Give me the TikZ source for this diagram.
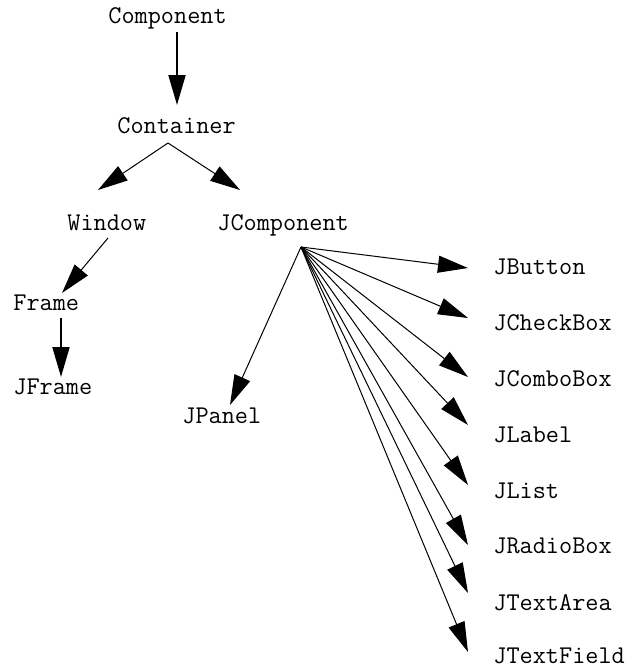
\documentclass[tikz,border=0pt]{standalone}
\usepackage{tikz}
\usetikzlibrary{arrows.meta}

\begin{document}
\begin{tikzpicture}[x=0.5pt,y=-0.5pt]
                \tikzstyle{cls}=[inner sep=0pt,anchor=base west,font=\ttfamily\fontsize{12.76}{15}\selectfont]
                \tikzstyle{sub}=[-{Triangle[length=15pt,width=8.5pt]},line width=0.5pt]
                \tikzstyle{subthick}=[sub,line width=1pt]
                \useasboundingbox (0,0) rectangle (629,669);

                % AWT part of the tree
                \node[cls] (comp) at (108,24) {Component};
                \node[cls] (cont) at (117,133) {Container};
                \node[cls] (win) at (67,230) {Window};
                \node[cls] (jc) at (217,230) {JComponent};
                \node[cls] (frame) at (13,310) {Frame};
                \node[cls] (jframe) at (13,394) {JFrame};
                \node[cls] (jpanel) at (182,423) {JPanel};

                % swing widgets in one column
                \foreach \nm/\txt/\y in {btn/JButton/274, chk/JCheckBox/330, combo/JComboBox/386,
                                         lbl/JLabel/442, lst/JList/498, radio/JRadioBox/553,
                                         area/JTextArea/610, field/JTextField/663}
                    \node[cls] (\nm) at (493,\y) {\txt};

                \coordinate (cont-out) at ([shift={(51,10)}]cont.base west);
                \coordinate (jc-out) at ([shift={(84,17)}]jc.base west);

                \draw[subthick] ([shift={(69,8)}]comp.base west) -- ([shift={(60,-28)}]cont.base west);
                \draw[sub] (cont-out) -- ([shift={(31,-40)}]win.base west);
                \draw[sub] (cont-out) -- ([shift={(23,-40)}]jc.base west);
                \draw[sub] ([shift={(41,8)}]win.base west) -- ([shift={(49,-17)}]frame.base west);
                \draw[subthick] ([shift={(48,8)}]frame.base west) -- ([shift={(48,-17)}]jframe.base west);
                \draw[sub] (jc-out) -- ([shift={(48,-18)}]jpanel.base west);

                \foreach \nm/\dy in {btn/-6, chk/-12, combo/-9, lbl/-17, lst/-13, radio/-8, area/-17, field/-11}
                    \draw[sub] (jc-out) -- ([shift={(-25,\dy)}]\nm.base west);
\end{tikzpicture}
\end{document}
